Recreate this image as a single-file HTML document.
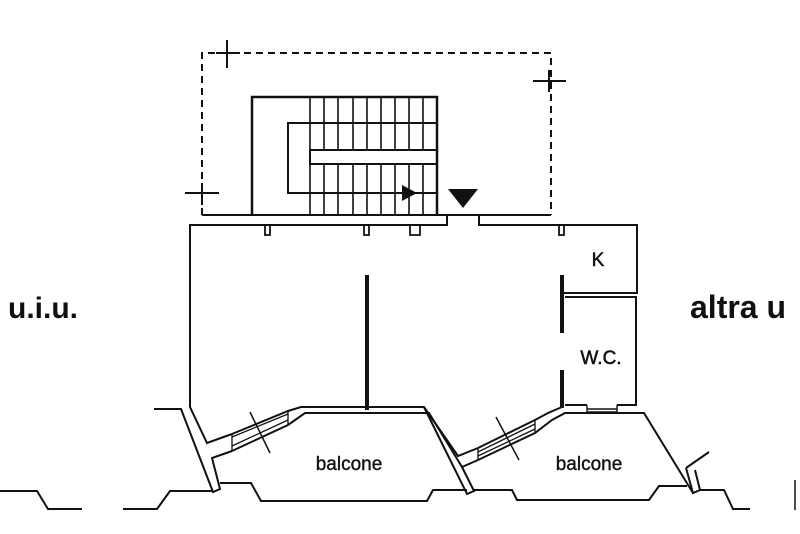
<!DOCTYPE html>
<html><head><style>
html,body{margin:0;padding:0;background:#fff;}
svg{display:block;}
text{font-family:"Liberation Sans",Arial,sans-serif;fill:#111;}
</style></head><body>
<svg width="800" height="534" viewBox="0 0 800 534" xmlns="http://www.w3.org/2000/svg">
<g fill="none" stroke="#111" stroke-width="2" stroke-linejoin="miter">
<path d="M202 215 V53 H551 V215" stroke-dasharray="7,5"/>
<path d="M216 53 H240 M227 40 V68 M533 81 H566 M549 70 V92 M185 193 H219 M202 183 V205"/>
<line x1="202" y1="215" x2="447" y2="215"/>
<line x1="479" y1="215" x2="551" y2="215"/>
<path d="M252 215 V97 H437 V215" stroke-width="2.5"/>
<path d="M437 123 H288 V193 H437"/>
<rect x="310" y="150" width="127" height="14"/>
<g stroke-width="1.6">
<path d="M310 97V150 M324 97V150 M338 97V150 M353 97V150 M367 97V150 M381 97V150 M395 97V150 M409 97V150 M423 97V150"/>
<path d="M310 164V215 M324 164V215 M338 164V215 M353 164V215 M367 164V215 M381 164V215 M395 164V215 M409 164V215 M423 164V215"/>
</g>
<path d="M447 215 V225 H190 V407 L207 443 L232 434"/>
<path d="M479 215 V225 H637 V293"/>
<path d="M447 215 H479"/>
<path d="M265 225 v10 h5 v-10 M364 225 v10 h5 v-10 M410 225 v10 h10 v-10 M559 225 v10 h5 v-10" stroke-width="1.8"/>
<path d="M562 293 H638 M565 297 H636 V405 H617 M587 405 H565" />
<path d="M587 405 v7 h30 v-7 M587 409 H617" stroke-width="1.4"/>
<rect x="560" y="275" width="4" height="58" fill="#111" stroke="none"/>
<rect x="560" y="370" width="4" height="38" fill="#111" stroke="none"/>
<rect x="365" y="275" width="4" height="135" fill="#111" stroke="none"/>
<path d="M154 409 H181 L213 492 L220 489 L212 458 L232 451"/>
<path d="M232 434 L288 411 L301 407 H424 L458 456 L478 448"/>
<path d="M232 451 L288 425 L305 413 H429 L462 467 L478 460"/>
<path d="M232 437 L288 414 M232 446 L288 420" stroke-width="1.3"/>
<path d="M232 434 V451 M288 411 V425" stroke-width="1.3"/>
<path d="M250 412 L270 453" stroke-width="1.5"/>
<path d="M424 407 L467 494 L474 491 L462 467"/>
<path d="M478 448 L535 420 L548 413 L562 407 M478 460 L535 433 L552 420 L565 413 H644 L693 493"/>
<path d="M478 452 L535 424 M478 456 L535 429" stroke-width="1.3"/>
<path d="M478 448 V460 M535 420 V433" stroke-width="1.3"/>
<path d="M496 417 L519 460" stroke-width="1.5"/>
<path d="M686 468 L709 452 M686 468 L693 493 L700 490 L695 470"/>
<path d="M0 491 H37 L48 509 H82"/>
<path d="M123 509 H157 L170 491 H213"/>
<path d="M220 483 H251 L261 501 H427 L433 490 H467"/>
<path d="M474 490 H512 L517 500 H649 L659 486 H687"/>
<path d="M700 490 H724 L733 509 H750"/>
<path d="M795 480 V510" stroke-width="1.5"/>
</g>
<polygon points="402,185 417,193 402,201" fill="#111"/>
<polygon points="448,189 478,189 463,208" fill="#111"/>
<text x="8" y="318" font-size="30" font-weight="bold">u.i.u.</text>
<text x="690" y="318" font-size="32" font-weight="bold">altra u</text>
<text x="349" y="470" font-size="19" text-anchor="middle" stroke="#111" stroke-width="0.4">balcone</text>
<text x="589" y="470" font-size="19" text-anchor="middle" stroke="#111" stroke-width="0.4">balcone</text>
<text x="598" y="266" font-size="19" text-anchor="middle" stroke="#111" stroke-width="0.5">K</text>
<text x="601" y="364" font-size="19" text-anchor="middle" stroke="#111" stroke-width="0.5">W.C.</text>
</svg>
</body></html>
